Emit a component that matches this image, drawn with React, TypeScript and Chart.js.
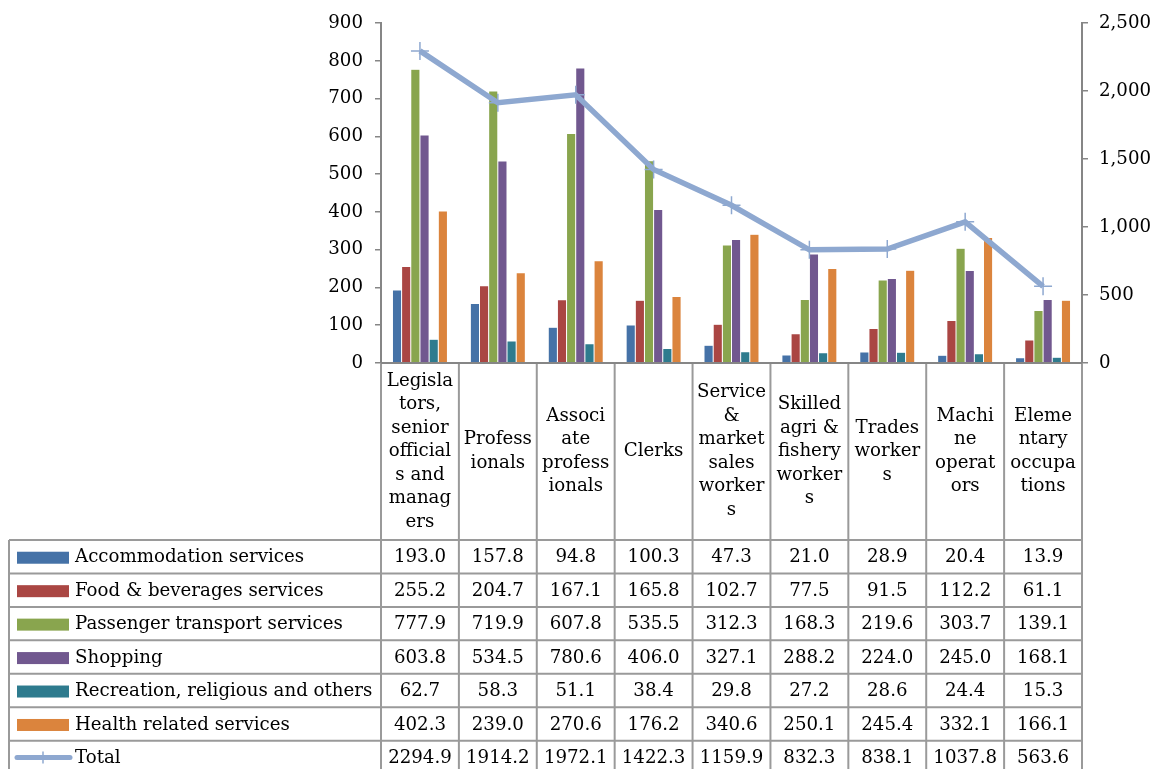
import React, { useEffect, useRef } from "react";
import { Chart, registerables } from "chart.js";

Chart.register(...registerables);

const categories: string[][] = [
  ["Legisla", "tors,", "senior", "official", "s and", "manag", "ers"],
  ["Profess", "ionals"],
  ["Associ", "ate", "profess", "ionals"],
  ["Clerks"],
  ["Service", "&", "market", "sales", "worker", "s"],
  ["Skilled", "agri &", "fishery", "worker", "s"],
  ["Trades", "worker", "s"],
  ["Machi", "ne", "operat", "ors"],
  ["Eleme", "ntary", "occupa", "tions"],
];

const accommodation = [193.0, 157.8, 94.8, 100.3, 47.3, 21.0, 28.9, 20.4, 13.9];
const foodBeverages = [255.2, 204.7, 167.1, 165.8, 102.7, 77.5, 91.5, 112.2, 61.1];
const passengerTransport = [777.9, 719.9, 607.8, 535.5, 312.3, 168.3, 219.6, 303.7, 139.1];
const shopping = [603.8, 534.5, 780.6, 406.0, 327.1, 288.2, 224.0, 245.0, 168.1];
const recreation = [62.7, 58.3, 51.1, 38.4, 29.8, 27.2, 28.6, 24.4, 15.3];
const health = [402.3, 239.0, 270.6, 176.2, 340.6, 250.1, 245.4, 332.1, 166.1];
const total = [2294.9, 1914.2, 1972.1, 1422.3, 1159.9, 832.3, 838.1, 1037.8, 563.6];

const seriesNames = [
  "Accommodation services",
  "Food & beverages services",
  "Passenger transport services",
  "Shopping",
  "Recreation, religious and others",
  "Health related services",
];
const totalName = "Total";
const seriesColors = ["#4572A7", "#AA4643", "#89A54E", "#71588F", "#2E7B8E", "#DB843D"];
const lineColor = "#8EA8D0";

const FONT = '"DejaVu Serif", serif';
const FS = 18.2;
const W = 1157;
const H = 769;

const tablePlugin = {
  id: "dataTable",
  afterDraw(chart: any) {
    const ctx: CanvasRenderingContext2D = chart.ctx;
    const xs = chart.scales.x;
    const area = chart.chartArea;
    const colW = xs.getPixelForValue(1) - xs.getPixelForValue(0);
    const centers = categories.map((_, i) => xs.getPixelForValue(i));
    const edges = [centers[0] - colW / 2, ...centers.map((c) => c + colW / 2)];
    const top = area.bottom;
    const headerBottom = 540;
    const rowH = 33.45;
    const tableLeft = 9;
    const rows = [accommodation, foodBeverages, passengerTransport, shopping, recreation, health, total];
    const names = [...seriesNames, totalName];

    ctx.save();
    ctx.strokeStyle = "#9a9a9a";
    ctx.lineWidth = 2;
    edges.forEach((x) => {
      ctx.beginPath();
      ctx.moveTo(x, top);
      ctx.lineTo(x, H);
      ctx.stroke();
    });
    ctx.beginPath();
    ctx.moveTo(tableLeft, headerBottom);
    ctx.lineTo(tableLeft, H);
    ctx.stroke();
    for (let r = 0; r < rows.length; r++) {
      const y = headerBottom + r * rowH;
      ctx.beginPath();
      ctx.moveTo(tableLeft, y);
      ctx.lineTo(edges[edges.length - 1], y);
      ctx.stroke();
    }
    ctx.strokeStyle = "#868686";
    ctx.beginPath();
    ctx.moveTo(area.left, top);
    ctx.lineTo(area.right, top);
    ctx.stroke();

    ctx.fillStyle = "#000";
    ctx.font = `${FS}px ${FONT}`;
    ctx.textAlign = "center";
    ctx.textBaseline = "middle";
    const lh = 23.5;
    const hc = (top + headerBottom) / 2;
    categories.forEach((lines, i) => {
      const start = hc - ((lines.length - 1) * lh) / 2;
      lines.forEach((t, k) => ctx.fillText(t, centers[i], start + k * lh));
    });

    rows.forEach((vals, r) => {
      const yc = headerBottom + r * rowH + rowH / 2 + 1;
      if (r < seriesNames.length) {
        ctx.fillStyle = seriesColors[r];
        ctx.fillRect(17, yc - 6, 52, 12);
      } else {
        ctx.strokeStyle = lineColor;
        ctx.lineWidth = 5;
        ctx.lineCap = "round";
        ctx.beginPath();
        ctx.moveTo(17, yc - 1);
        ctx.lineTo(70, yc - 1);
        ctx.stroke();
        ctx.lineWidth = 1.5;
        ctx.lineCap = "butt";
        ctx.beginPath();
        ctx.moveTo(43, yc - 7);
        ctx.lineTo(43, yc + 5);
        ctx.stroke();
      }
      ctx.fillStyle = "#000";
      ctx.textAlign = "left";
      ctx.fillText(names[r], 75, yc);
      ctx.textAlign = "center";
      vals.forEach((v, i) => ctx.fillText(v.toFixed(1), centers[i], yc));
    });
    ctx.restore();
  },
};

export default function App() {
  const ref = useRef<HTMLCanvasElement | null>(null);
  useEffect(() => {
    if (!ref.current) return;
    const seriesData = [accommodation, foodBeverages, passengerTransport, shopping, recreation, health];
    const chart = new Chart(ref.current, {
      type: "bar",
      data: {
        labels: categories.map((c) => c.join(" ")),
        datasets: [
          {
            type: "line",
            label: totalName,
            data: total,
            yAxisID: "y1",
            borderColor: lineColor,
            backgroundColor: lineColor,
            borderWidth: 5.5,
            pointStyle: "cross",
            pointRadius: 9,
            pointBorderWidth: 1.5,
            tension: 0,
            order: 0,
          } as any,
          ...seriesData.map((d, i) => ({
            type: "bar" as const,
            label: seriesNames[i],
            data: d,
            yAxisID: "y",
            backgroundColor: seriesColors[i],
            borderColor: "rgba(255,255,255,0.35)",
            borderWidth: 0.5,
            categoryPercentage: 0.706,
            barPercentage: 1,
            order: 1,
          })),
        ],
      },
      options: {
        responsive: false,
        animation: false,
        devicePixelRatio: 1,
        layout: { padding: { top: 23, bottom: H - 363, left: 0, right: 0 } },
        plugins: { legend: { display: false }, tooltip: { enabled: false } },
        scales: {
          x: { display: false, offset: true },
          y: {
            position: "left",
            min: 0,
            max: 900,
            ticks: { stepSize: 100, color: "#000", font: { family: FONT, size: FS }, padding: 12 },
            grid: { drawOnChartArea: false, drawTicks: true, tickLength: 6, color: "#868686", lineWidth: 1.5 },
            border: { display: true, color: "#868686", width: 2 },
            afterFit: (axis: any) => {
              axis.width = 381;
            },
          },
          y1: {
            position: "right",
            min: 0,
            max: 2500,
            ticks: {
              stepSize: 500,
              color: "#000",
              font: { family: FONT, size: FS },
              padding: 11,
              callback: (v: any) => Number(v).toLocaleString("en-US"),
            },
            grid: { drawOnChartArea: false, drawTicks: true, tickLength: 6, color: "#868686", lineWidth: 1.5 },
            border: { display: true, color: "#868686", width: 2 },
            afterFit: (axis: any) => {
              axis.width = W - 1082;
            },
          },
        },
      } as any,
      plugins: [tablePlugin],
    });
    return () => chart.destroy();
  }, []);
  return (
    <div style={{ position: "fixed", left: 0, top: 0, width: W, height: H, background: "#fff" }}>
      <canvas ref={ref} width={W} height={H} style={{ display: "block", width: W, height: H }} />
    </div>
  );
}
